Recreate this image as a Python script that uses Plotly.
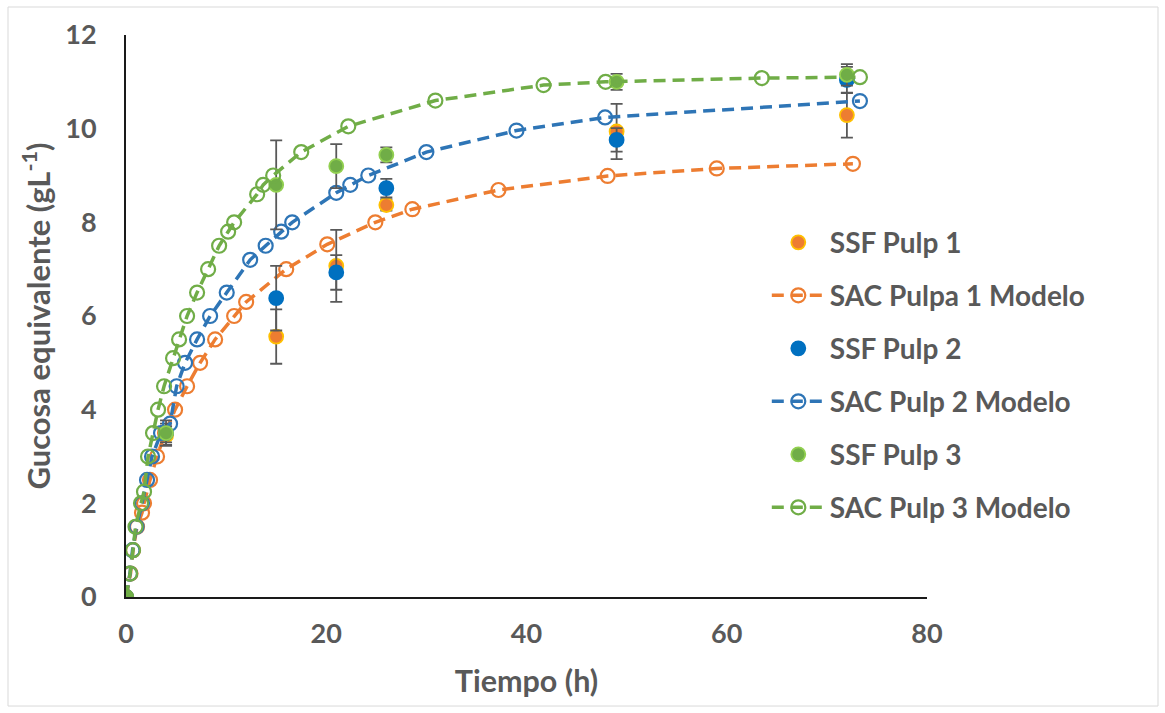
import plotly.graph_objects as go

# ---- data ----
ssf_t = [0, 4, 15, 21, 26, 49, 72]
ssf1 = [0, 3.45, 5.56, 7.07, 8.37, 9.94, 10.29]
ssf1_err = [0, 0.2, 0.58, 0.77, 0.12, 0.59, 0.48]
ssf2 = [0, 3.5, 6.38, 6.93, 8.73, 9.76, 11.04]
ssf2_err = [0, 0.2, 0.69, 0.37, 0.2, 0.25, 0.28]
ssf3 = [0, 3.5, 8.8, 9.2, 9.44, 11.0, 11.15]
ssf3_err = [0, 0.27, 0.95, 0.47, 0.16, 0.17, 0.23]

m1_t = [0, 0.45, 0.7, 1.1, 1.6, 1.8, 2.4, 3.1, 3.9, 4.9, 6.1, 7.4, 8.9, 10.8, 12.0, 16.0, 20.1, 24.9, 28.6, 37.2, 48.1, 59.0, 72.6]
m1_y = [0, 0.5, 1.0, 1.5, 1.8, 2.0, 2.5, 3.0, 3.5, 4.0, 4.5, 5.0, 5.5, 6.0, 6.3, 7.0, 7.53, 8.0, 8.28, 8.69, 8.99, 9.15, 9.25]

m2_t = [0, 0.4, 0.65, 1.05, 1.6, 2.1, 2.6, 3.5, 4.4, 5.06, 5.9, 7.1, 8.4, 10.06, 12.4, 13.95, 15.5, 16.6, 21.0, 22.4, 24.2, 30.0, 39.0, 47.85, 73.3]
m2_y = [0, 0.5, 1.0, 1.5, 2.0, 2.5, 3.0, 3.5, 3.7, 4.5, 5.0, 5.5, 6.0, 6.5, 7.2, 7.5, 7.8, 8.0, 8.63, 8.8, 9.0, 9.5, 9.96, 10.24, 10.59]

m3_t = [0, 0.4, 0.7, 0.95, 1.5, 1.8, 2.2, 2.7, 3.2, 3.8, 4.7, 5.3, 6.1, 7.1, 8.2, 9.3, 10.2, 10.8, 13.1, 13.7, 14.7, 17.5, 22.2, 30.9, 41.7, 47.9, 63.5, 73.3]
m3_y = [0, 0.5, 1.0, 1.5, 2.0, 2.25, 3.0, 3.5, 4.0, 4.5, 5.1, 5.5, 6.0, 6.5, 7.0, 7.5, 7.8, 8.0, 8.6, 8.8, 9.0, 9.5, 10.05, 10.6, 10.93, 11.0, 11.08, 11.1]

names = ["SSF Pulp 1", "SAC Pulpa 1 Modelo", "SSF Pulp 2", "SAC Pulp 2 Modelo", "SSF Pulp 3", "SAC Pulp 3 Modelo"]

FONT = "Lato"
GREY = "#595959"
ERR = dict(type="data", visible=True, color=GREY, thickness=1.8, width=6)

fig = go.Figure()

def ssf(name, y, err, fill, edge, grp):
    fig.add_trace(go.Scatter(
        x=ssf_t, y=y, name=name, mode="markers", legendgroup=grp,
        marker=dict(symbol="circle", size=14, color=fill, line=dict(color=edge, width=1.8)),
        error_y=dict(array=err, **ERR)))

def model(name, t, y, color, grp):
    fig.add_trace(go.Scatter(
        x=t, y=y, name=name, mode="lines+markers", legendgroup=grp,
        line=dict(color=color, width=3.5, dash="12px,7px"),
        marker=dict(symbol="circle-open", size=14, color=color, line=dict(color=color, width=2.2))))

ssf(names[0], ssf1, ssf1_err, "#ED7D31", "#FFC000", "g1")
model(names[1], m1_t, m1_y, "#ED7D31", "g2")
ssf(names[2], ssf2, ssf2_err, "#0070C0", "#0070C0", "g3")
model(names[3], m2_t, m2_y, "#2E75B6", "g4")
ssf(names[4], ssf3, ssf3_err, "#70AD47", "#92D050", "g5")
model(names[5], m3_t, m3_y, "#70AD47", "g6")

axis_common = dict(showgrid=False, zeroline=False, showline=True, linecolor="#1a1a1a", linewidth=2,
                   ticks="", tickfont=dict(family=FONT, size=27, color=GREY, weight="bold"))

fig.update_layout(
    width=1165, height=713,
    margin=dict(l=126, r=238, t=35, b=116),
    paper_bgcolor="white", plot_bgcolor="white",
    font=dict(family=FONT, color=GREY),
    xaxis=dict(range=[0, 80], dtick=20, ticklabelstandoff=12,
               title=dict(text="<b>Tiempo (h)</b>", font=dict(family=FONT, size=30.5, color=GREY), standoff=22),
               **axis_common),
    yaxis=dict(range=[0, 12], dtick=2, ticklabelstandoff=22,
               title=dict(text="<b>Gucosa equivalente (gL<sup>-1</sup>)</b>", font=dict(family=FONT, size=31, color=GREY), standoff=5),
               **axis_common),
    showlegend=True,
    legend=dict(x=0.80, y=0.675, xanchor="left", yanchor="top", bgcolor="rgba(0,0,0,0)",
                traceorder="grouped", tracegroupgap=13.6, itemwidth=53,
                font=dict(family=FONT, size=28, color=GREY, weight="bold")),
    shapes=[dict(type="rect", xref="paper", yref="paper", x0=-0.1473, x1=1.2884, y0=-0.194, y1=1.0498,
                 line=dict(color="#D9D9D9", width=1), layer="below")],
)

fig.write_html("out.html")
